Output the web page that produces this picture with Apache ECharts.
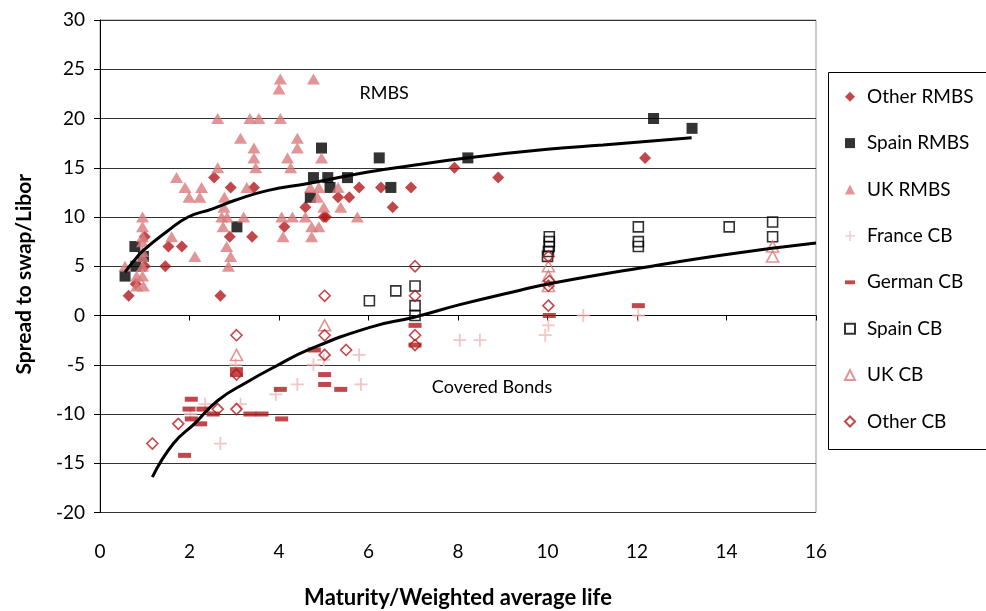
<!DOCTYPE html>
<html>
<head>
<meta charset="utf-8">
<title>Spreads by maturity</title>
<script src="https://cdn.jsdelivr.net/npm/echarts@6/dist/echarts.min.js"></script>
<style>
  html, body { margin: 0; padding: 0; background: #ffffff; }
  #chart { width: 986px; height: 611px; }
</style>
</head>
<body>
<div id="chart"></div>
<script>
// Axis ticks
const xTickValues = [0, 2, 4, 6, 8, 10, 12, 14, 16];
const yTickValues = [-20, -15, -10, -5, 0, 5, 10, 15, 20, 25, 30];

// [maturity / weighted average life, spread to swap/Libor]
const otherRMBS = [
  [0.64, 2], [0.8, 3.2], [1.0, 5], [1.0, 8], [1.46, 5], [1.53, 7], [1.83, 7],
  [2.55, 14], [2.69, 2], [2.9, 8], [2.92, 13], [3.4, 8], [3.44, 13], [4.12, 9],
  [4.59, 11], [5.0, 10], [5.05, 10], [5.32, 12], [5.57, 12], [5.79, 13],
  [6.28, 13], [6.54, 11], [6.95, 13], [7.92, 15], [8.9, 14], [12.18, 16]
];
const spainRMBS = [
  [0.56, 4], [0.8, 5], [0.78, 7], [0.97, 6], [3.06, 9], [4.7, 12], [4.77, 14],
  [4.95, 17], [5.09, 14], [5.14, 13], [5.53, 14], [6.24, 16], [6.5, 13],
  [8.22, 16], [12.37, 20], [13.23, 19]
];
const ukRMBS = [
  [0.56, 5], [0.82, 4], [0.82, 3], [0.95, 10], [0.95, 9], [0.95, 8], [0.95, 7.5],
  [0.95, 6.5], [0.95, 6], [0.95, 5], [0.95, 4], [0.97, 3], [1.6, 8], [1.71, 14],
  [1.9, 13], [1.99, 12], [2.23, 12], [2.27, 13], [2.12, 6], [2.63, 20], [2.63, 15],
  [2.78, 12], [2.77, 11], [2.72, 10], [2.84, 10], [2.75, 9], [2.83, 7], [2.92, 6],
  [2.87, 5], [3.14, 18], [3.21, 10], [3.28, 13], [3.35, 20], [3.44, 17], [3.44, 16],
  [3.48, 15], [3.55, 20], [4.0, 23], [4.03, 24], [4.03, 20], [4.06, 10], [4.09, 8],
  [4.19, 16], [4.26, 15], [4.3, 10], [4.41, 18], [4.41, 17], [4.59, 10], [4.7, 13],
  [4.73, 9], [4.73, 8], [4.77, 24], [4.86, 12], [4.89, 13], [4.89, 9], [4.95, 16],
  [5.0, 11], [5.32, 13], [5.38, 11], [5.75, 10]
];
const franceCB = [
  [2.02, -10], [2.35, -9], [2.69, -13], [3.14, -9], [3.03, -5], [3.93, -8],
  [4.41, -7], [4.77, -5], [5.0, -4.5], [5.79, -4], [5.83, -7], [8.04, -2.5],
  [8.49, -2.5], [10.02, -1], [9.95, -2], [10.8, 0], [12.03, 0]
];
const germanCB = [
  [1.89, -14.2], [2.04, -8.5], [1.99, -9.5], [2.3, -9.5], [2.04, -10.5], [2.25, -11],
  [2.53, -10], [3.05, -5.5], [3.05, -6], [3.35, -10], [3.62, -10], [4.03, -7.5],
  [4.06, -10.5], [4.79, -3.5], [5.02, -6], [5.02, -7], [5.38, -7.5], [7.04, -1],
  [7.04, -3], [10.04, 0], [12.03, 1]
];
const spainCB = [
  [6.02, 1.5], [6.61, 2.5], [7.04, 3], [7.04, 1], [7.04, 0], [10.04, 8], [10.04, 7.5],
  [10.04, 7], [10.02, 6.5], [10.0, 6], [12.03, 9], [12.03, 7.5], [12.03, 7],
  [14.06, 9], [15.03, 9.5], [15.03, 8]
];
const ukCB = [
  [3.05, -4], [5.02, -1], [10.02, 5], [10.02, 4], [10.02, 3], [15.03, 7], [15.03, 6]
];
const otherCB = [
  [1.17, -13], [1.75, -11], [2.63, -9.5], [3.05, -9.5], [3.05, -2], [3.05, -6],
  [5.02, 2], [5.02, -2], [5.02, -4], [5.5, -3.5], [7.04, 5], [7.04, 2], [7.04, -2],
  [7.04, -3], [10.02, 6], [10.04, 3.5], [10.02, 3], [10.02, 1]
];

// Fitted trend curves
const rmbsCurve = [
  [0.56, 4.4], [0.75, 5.5], [0.97, 6.6], [1.49, 8.5], [1.97, 10.0], [2.5, 10.8],
  [3.02, 11.7], [3.76, 12.7], [4.65, 13.4], [5.96, 14.55], [7.0, 15.25],
  [8.19, 16.0], [10.06, 16.9], [11.24, 17.3], [13.22, 18.05]
];
const coveredCurve = [
  [1.17, -16.4], [1.64, -13.0], [2.12, -10.95], [2.64, -8.6], [3.31, -6.7],
  [3.91, -5.2], [4.65, -3.5], [6.03, -1.2], [7.04, -0.15], [8.04, 1.1],
  [9.39, 2.57], [10.13, 3.3], [12.22, 4.93], [14.0, 6.2], [16.0, 7.35]
];

const legendNames = ['Other RMBS', 'Spain RMBS', 'UK RMBS', 'France CB',
  'German CB', 'Spain CB', 'UK CB', 'Other CB'];

const FONT = 'Lato, "Noto Sans", sans-serif';
const RED = '#B3191D';
const PINK = '#D97A7C';
const LIGHT = '#F0B6B6';
const CLEAR = 'rgba(0,0,0,0)';
const plusPath = 'path://M4.3,0h1.4v4.3h4.3v1.4h-4.3v4.3h-1.4v-4.3h-4.3v-1.4h4.3z';
const dashPath = 'path://M0,0h13v5h-13z';

const xMin = xTickValues[0], xMax = xTickValues[xTickValues.length - 1];
const yMin = yTickValues[0], yMax = yTickValues[yTickValues.length - 1];

function scatter(name, data, symbol, size, style, keepAspect) {
  return { name, type: 'scatter', data, symbol, symbolSize: size,
           itemStyle: style, symbolKeepAspect: keepAspect !== false };
}
function trend(data) {
  return { type: 'line', data, showSymbol: false, smooth: true, z: 5,
           lineStyle: { color: '#000', width: 3 }, silent: true };
}

const option = {
  animation: false,
  backgroundColor: '#ffffff',
  textStyle: { fontFamily: FONT },
  grid: { left: 100, right: 170, top: 20, bottom: 98.5, show: true,
          outerBoundsMode: 'none', containLabel: false,
          borderColor: '#999', borderWidth: 1, backgroundColor: 'transparent' },
  xAxis: [
    {
      type: 'value', min: xMin, max: xMax, interval: 2,
      name: 'Maturity/Weighted average life', nameLocation: 'middle', nameGap: 74,
      nameTextStyle: { fontFamily: FONT, fontWeight: 'bold', fontSize: 22, color: '#000' },
      axisLine: { show: false, onZero: false },
      axisTick: { show: false },
      splitLine: { show: false },
      axisLabel: { margin: 30, fontSize: 19, color: '#000', fontFamily: FONT }
    },
    {
      type: 'value', min: xMin, max: xMax, interval: 2, position: 'bottom',
      axisLine: { show: true, onZero: true, lineStyle: { color: '#000', width: 1 } },
      axisTick: { show: true, length: 5, lineStyle: { color: '#000' } },
      axisLabel: { show: false },
      splitLine: { show: false }
    }
  ],
  yAxis: {
    type: 'value', min: yMin, max: yMax, interval: 5,
    name: 'Spread to swap/Libor', nameLocation: 'middle', nameGap: 65,
    nameTextStyle: { fontFamily: FONT, fontWeight: 'bold', fontSize: 21, color: '#000',
                     padding: [0, 16, 0, 0] },
    axisLine: { show: true, onZero: false, lineStyle: { color: '#000', width: 1 } },
    axisTick: { show: true, length: 6, lineStyle: { color: '#000' } },
    splitLine: { show: true, lineStyle: { color: '#333', width: 1 } },
    axisLabel: { margin: 15, fontSize: 19, color: '#000', fontFamily: FONT }
  },
  legend: {
    data: legendNames.map(n => n === 'German CB' ? { name: n, icon: dashPath } : n),
    orient: 'vertical', left: 844, top: 86.7, padding: 0,
    itemWidth: 10, itemHeight: 10, itemGap: 26.4,
    textStyle: { fontSize: 19, lineHeight: 20, color: '#000', fontFamily: FONT,
                 padding: [0, 0, 0, 7] },
    selectedMode: false
  },
  series: [
    scatter('Other RMBS', otherRMBS, 'diamond', 12, { color: RED }),
    scatter('Spain RMBS', spainRMBS, 'rect', 11, { color: '#000' }),
    scatter('UK RMBS', ukRMBS, 'triangle', [13, 11], { color: PINK }, false),
    scatter('France CB', franceCB, plusPath, 13, { color: LIGHT }),
    scatter('German CB', germanCB, 'rect', [13, 5], { color: RED }, false),
    scatter('Spain CB', spainCB, 'rect', 10, { color: CLEAR, borderColor: '#000', borderWidth: 1.6 }),
    scatter('UK CB', ukCB, 'triangle', [12, 11], { color: CLEAR, borderColor: PINK, borderWidth: 1.6 }, false),
    scatter('Other CB', otherCB, 'diamond', 11, { color: CLEAR, borderColor: RED, borderWidth: 1.6 }),
    trend(rmbsCurve),
    trend(coveredCurve)
  ]
};

const chart = echarts.init(document.getElementById('chart'), null, { renderer: 'canvas' });
chart.setOption(option);

// Group labels placed in data coordinates
const annotations = [
  { text: 'RMBS', at: [6.35, 22.6] },
  { text: 'Covered Bonds', at: [8.76, -7.3] }
];
const annotationGraphics = annotations.map(a => {
  const p = chart.convertToPixel({ xAxisIndex: 0, yAxisIndex: 0 }, a.at);
  return {
    type: 'text', x: p[0], y: p[1], z: 10,
    style: { text: a.text, fill: '#000', fontFamily: FONT, fontSize: 18,
             align: 'center', verticalAlign: 'middle',
             textAlign: 'center', textVerticalAlign: 'middle' }
  };
});

// Legend frame
const legendFrame = {
  type: 'rect', z: 0,
  shape: { x: 828.5, y: 72.5, width: 200, height: 377 },
  style: { fill: 'none', stroke: '#000', lineWidth: 1 }
};

chart.setOption({ graphic: [legendFrame].concat(annotationGraphics) });
</script>
</body>
</html>
